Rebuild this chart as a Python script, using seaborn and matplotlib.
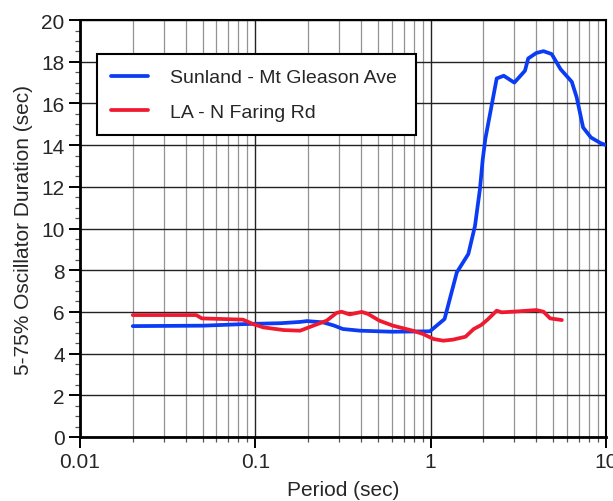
import numpy as np
import pandas as pd
import matplotlib
matplotlib.use("Agg")
import matplotlib.pyplot as plt
from matplotlib.ticker import LogLocator, FixedLocator, MultipleLocator, NullFormatter
import seaborn as sns

# Sunland - Mt Gleason Ave: period (s) and 5-75% oscillator duration (s)
sunland_period = [0.02, 0.05, 0.089, 0.14, 0.18, 0.197, 0.243, 0.28, 0.316, 0.395,
                  0.6, 0.99, 1.2, 1.41, 1.64, 1.79, 1.91, 1.98, 2.05, 2.38, 2.61,
                  3.0, 3.45, 3.6, 4.0, 4.4, 4.9, 5.5, 6.38, 6.8, 7.4, 8.2, 9.3, 10.0]
sunland_duration = [5.32, 5.34, 5.42, 5.46, 5.52, 5.56, 5.50, 5.35, 5.18, 5.10,
                    5.05, 5.07, 5.66, 7.9, 8.78, 10.13, 11.9, 13.3, 14.3, 17.2, 17.33,
                    17.0, 17.57, 18.16, 18.42, 18.51, 18.37, 17.65, 17.04, 16.3, 14.85,
                    14.37, 14.1, 14.0]

# LA - N Faring Rd
faring_period = [0.02, 0.046, 0.0495, 0.085, 0.097, 0.111, 0.145, 0.18, 0.214,
                 0.255, 0.29, 0.31, 0.345, 0.405, 0.44, 0.51, 0.61, 0.79, 0.905,
                 1.04, 1.18, 1.34, 1.58, 1.76, 1.94, 2.11, 2.38, 2.54, 3.2, 4.0,
                 4.4, 4.8, 5.6]
faring_duration = [5.85, 5.85, 5.69, 5.63, 5.42, 5.26, 5.13, 5.10, 5.34,
                   5.58, 5.95, 6.01, 5.88, 6.00, 5.90, 5.58, 5.34, 5.10, 4.94,
                   4.70, 4.62, 4.67, 4.81, 5.18, 5.37, 5.63, 6.06, 5.98, 6.03, 6.09,
                   6.01, 5.69, 5.61]

site_names = ["Sunland - Mt Gleason Ave", "LA - N Faring Rd"]
site_colors = ["#0b3cf4", "#f01a30"]

df = pd.concat([
    pd.DataFrame({"period": sunland_period, "duration": sunland_duration, "site": site_names[0]}),
    pd.DataFrame({"period": faring_period, "duration": faring_duration, "site": site_names[1]}),
], ignore_index=True)

sns.set_style("ticks")
plt.rcParams["font.family"] = ["Liberation Sans", "DejaVu Sans"]

fig = plt.figure(figsize=(6.13, 5.02), dpi=100)
ax = fig.add_axes([0.1305, 0.1275, 0.8581, 0.8305])

sns.lineplot(data=df, x="period", y="duration", hue="site", hue_order=site_names,
             palette=dict(zip(site_names, site_colors)), estimator=None, sort=False,
             linewidth=2.7, ax=ax, zorder=3)

ax.set_xscale("log")
ax.set_xlim(0.01, 10)
ax.set_ylim(0, 20)

# ticks and grid
ax.xaxis.set_major_locator(FixedLocator([0.01, 0.1, 1, 10]))
ax.set_xticklabels(["0.01", "0.1", "1", "10"])
ax.xaxis.set_minor_locator(LogLocator(base=10, subs=np.arange(2, 10)))
ax.xaxis.set_minor_formatter(NullFormatter())
ax.yaxis.set_major_locator(MultipleLocator(2))
ax.yaxis.set_minor_locator(MultipleLocator(0.5))

ax.grid(which="major", axis="both", color="#222222", linewidth=1.0, zorder=1)
ax.grid(which="minor", axis="x", color="#939393", linewidth=0.9, zorder=1)
ax.set_axisbelow(True)

ax.tick_params(which="major", direction="out", length=8, width=1.4, labelsize=15,
               color="black", pad=3)
ax.tick_params(which="minor", direction="out", length=3.5, width=0.9, color="#555555")

for side in ["left", "bottom"]:
    ax.spines[side].set_linewidth(2.0)
for side in ["top", "right"]:
    ax.spines[side].set_linewidth(1.5)
for s in ax.spines.values():
    s.set_color("black")
    s.set_visible(True)

ax.set_xlabel("Period (sec)", fontsize=15, labelpad=6)
ax.set_ylabel("5-75% Oscillator Duration (sec)", fontsize=15, labelpad=6)

leg = ax.legend(loc="upper left", bbox_to_anchor=(0.032, 0.736, 0.607, 0.182),
                mode="expand", fontsize=14, frameon=True, fancybox=False,
                edgecolor="black", framealpha=1, handlelength=1.9, handletextpad=1.1,
                labelspacing=0.85, borderpad=0.75, borderaxespad=0)
leg.get_frame().set_linewidth(1.5)
for line in leg.get_lines():
    line.set_linewidth(2.7)

fig.savefig("out.png", dpi=100)
